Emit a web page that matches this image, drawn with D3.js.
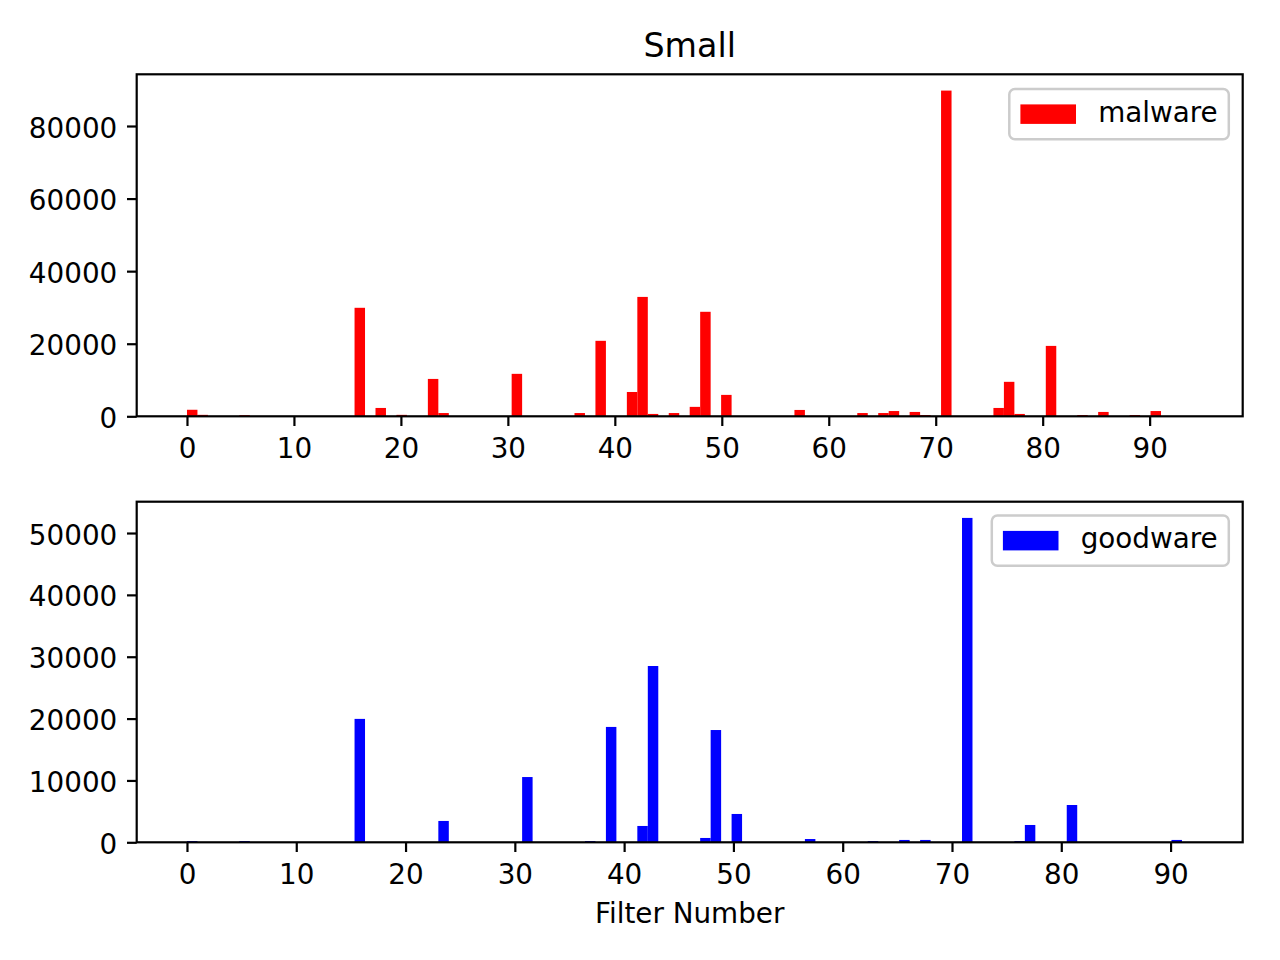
<!DOCTYPE html>
<html>
<head>
<meta charset="utf-8">
<script src="https://cdn.jsdelivr.net/npm/d3@7"></script>
<style>
  body { margin: 0; background: #fff; }
  svg { display: block; font-family: "DejaVu Sans", sans-serif; }
</style>
</head>
<body>
<svg id="chart" width="1280" height="960"></svg>
<script>
// ---- data (histogram, 96 bins) ----
const title = "Small";
const xLabel = "Filter Number";
const nBins = 96;

const malwareRange = [0, 94];
const malwareBins   = [0, 1, 5, 16, 18, 20, 23, 24, 31, 37, 39, 42, 43, 44, 46, 48, 49, 51, 58, 64, 66, 67, 69, 70, 72, 77, 78, 79, 82, 85, 87, 90, 92];
const malwareCounts = [1800, 400, 300, 29900, 2300, 400, 10300, 900, 11700, 900, 20800, 6700, 32900, 650, 900, 2600, 28800, 5900, 1750, 900, 900, 1450, 1200, 350, 89760, 2300, 9500, 650, 19400, 350, 1200, 350, 1450];

const goodwareRange = [0, 92];
const goodwareBins   = [0, 5, 16, 24, 32, 38, 40, 43, 44, 49, 50, 52, 59, 65, 68, 70, 74, 79, 80, 84, 94];
const goodwareCounts = [200, 200, 19950, 3450, 10550, 200, 18650, 2640, 28500, 700, 18150, 4580, 530, 200, 380, 380, 52440, 200, 2800, 6030, 380];

const xTicks = [0, 10, 20, 30, 40, 50, 60, 70, 80, 90];
const malwareYTicks = [0, 20000, 40000, 60000, 80000];
const goodwareYTicks = [0, 10000, 20000, 30000, 40000, 50000];

// ---- layout ----
const svg = d3.select("#chart");
const L = 136.7, R = 1242.7;
const FS = 27.8;
const tickLen = 9.7, tickW = 2.2;

function panel(top, bottom, range, bins, counts, yTicks, color, label, legendBox) {
  const span = range[1] - range[0];
  const x = d3.scaleLinear()
    .domain([range[0] - 0.05 * span, range[1] + 0.05 * span])
    .range([L, R]);
  const ymax = d3.max(counts) * 1.05;
  const y = d3.scaleLinear().domain([0, ymax]).range([bottom, top]);
  const w = span / nBins;
  const g = svg.append("g");

  const data = bins.map((b, i) => ({ x0: range[0] + b * w, x1: range[0] + (b + 1) * w, c: counts[i] }));
  g.selectAll("rect.bar").data(data).enter().append("rect")
    .attr("class", "bar")
    .attr("x", d => x(d.x0))
    .attr("width", d => x(d.x1) - x(d.x0))
    .attr("y", d => y(d.c))
    .attr("height", d => y(0) - y(d.c))
    .attr("fill", color);

  // frame
  g.append("rect").attr("x", L).attr("y", top).attr("width", R - L).attr("height", bottom - top)
    .attr("fill", "none").attr("stroke", "#000").attr("stroke-width", tickW);

  // x axis
  const xa = g.append("g").attr("transform", `translate(0,${bottom})`)
    .call(d3.axisBottom(x).tickValues(xTicks).tickSize(tickLen).tickPadding(9.7).tickFormat(d3.format("d")));
  xa.select(".domain").remove();
  xa.selectAll("line").attr("stroke", "#000").attr("stroke-width", tickW);
  xa.selectAll("text").attr("font-size", FS).attr("fill", "#000")
    .attr("font-family", "DejaVu Sans").attr("dy", "0.82em");

  // y axis
  const ya = g.append("g").attr("transform", `translate(${L},0)`)
    .call(d3.axisLeft(y).tickValues(yTicks).tickSize(tickLen).tickPadding(9.7).tickFormat(d3.format("d")));
  ya.select(".domain").remove();
  ya.selectAll("line").attr("stroke", "#000").attr("stroke-width", tickW);
  ya.selectAll("text").attr("font-size", FS).attr("fill", "#000")
    .attr("font-family", "DejaVu Sans").attr("dy", "0.4em");

  // legend
  const lb = legendBox;
  g.append("rect").attr("x", lb.x0).attr("y", lb.y0).attr("width", lb.x1 - lb.x0).attr("height", lb.y1 - lb.y0)
    .attr("rx", 5.6).attr("ry", 5.6)
    .attr("fill", "#fff").attr("fill-opacity", 0.8).attr("stroke", "#cccccc").attr("stroke-width", 2.5);
  g.append("rect").attr("x", lb.x0 + 11.1).attr("y", (lb.y0 + lb.y1) / 2 - 9.7)
    .attr("width", 55.6).attr("height", 19.5).attr("fill", color);
  g.append("text").attr("x", lb.x0 + 11.1 + 55.6 + 22.2).attr("y", (lb.y0 + lb.y1) / 2 + 7.6)
    .attr("font-size", FS).attr("fill", "#000").text(label);
}

panel(74.3, 416.3, malwareRange, malwareBins, malwareCounts, malwareYTicks, "#ff0000", "malware",
  { x0: 1009.3, x1: 1228.8, y0: 88.9, y1: 139.3 });
panel(501.7, 842.3, goodwareRange, goodwareBins, goodwareCounts, goodwareYTicks, "#0000ff", "goodware",
  { x0: 991.8, x1: 1228.8, y0: 515.4, y1: 565.8 });

svg.append("text").attr("x", (L + R) / 2).attr("y", 57.3).attr("text-anchor", "middle")
  .attr("font-size", 33.3).attr("fill", "#000").text(title);
svg.append("text").attr("x", (L + R) / 2).attr("y", 923.3).attr("text-anchor", "middle")
  .attr("font-size", FS).attr("fill", "#000").text(xLabel);
</script>
</body>
</html>
